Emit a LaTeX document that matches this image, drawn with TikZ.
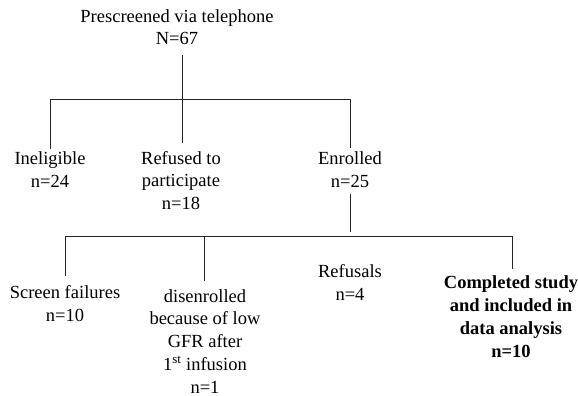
\documentclass[tikz,border=0pt]{standalone}
\usepackage{fontspec}
\setmainfont{Liberation Serif}
\begin{document}
\begin{tikzpicture}[x=1pt,y=-1pt,
  lbl/.style={font=\fontsize{18.5}{22.75}\selectfont, align=center, inner sep=0pt, anchor=base},
  bold/.style={lbl, font=\fontsize{18.5}{22.75}\selectfont\bfseries},
  conn/.style={draw=black!85, line width=0.8pt}]
\useasboundingbox (0,0) rectangle (578,396);
% anchor=base is the baseline of the last line
\node[lbl] (top) at (177,45) {Prescreened via telephone\\N=67};
\node[lbl] (inel) at (50,187) {Ineligible\\n=24};
\node[lbl] (ref) at (181,209.5) {Refused to\\participate\\n=18};
\node[lbl] (enr) at (350,187) {Enrolled\\n=25};
\node[lbl] (scr) at (65,321.5) {Screen failures\\n=10};
\node[lbl] (dis) at (205,393) {disenrolled\\because of low\\GFR after\\1\textsuperscript{st} infusion\\n=1};
\node[lbl] (refu) at (350,300) {Refusals\\n=4};
\node[bold] (comp) at (511,357) {Completed study\\and included in\\data analysis\\n=10};
\coordinate (t1) at (182,55);
\coordinate (t2) at (182,143);
\coordinate (hl) at (50,99);
\coordinate (hr) at (350,99);
\coordinate (il) at (50,149);
\coordinate (er) at (350,148);
\coordinate (e1) at (350,194);
\coordinate (e2) at (350,232);
\coordinate (bl) at (65,236);
\coordinate (bm) at (204,236);
\coordinate (br) at (512,236);
\draw[conn] (t1) -- (t2);
\draw[conn] (il) -- (hl) -- (hr) -- (er);
\draw[conn] (e1) -- (e2);
\draw[conn] (65,276) -- (bl) -- (br) -- (512,269);
\draw[conn] (bm) -- (204,281);
\end{tikzpicture}
\end{document}
